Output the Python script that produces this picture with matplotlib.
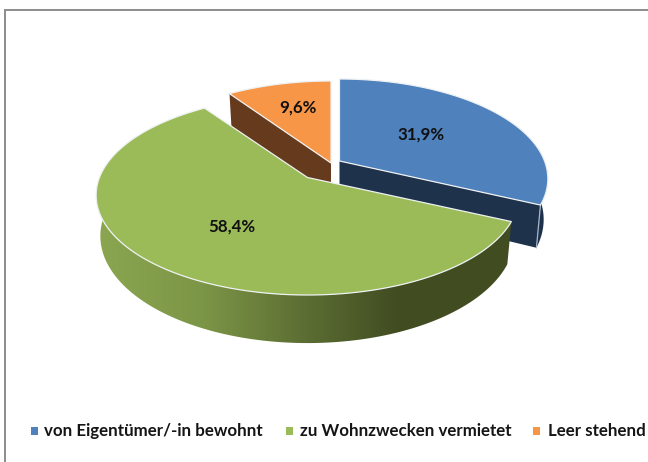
import numpy as np
import matplotlib
matplotlib.use("Agg")
import matplotlib.pyplot as plt
from matplotlib.patches import Polygon, Rectangle
from matplotlib.colors import LinearSegmentedColormap

categories = ["von Eigentümer/-in bewohnt", "zu Wohnzwecken vermietet", "Leer stehend"]
shares = [31.9, 58.4, 9.6]
share_labels = ["31,9%", "58,4%", "9,6%"]
top_colors = ["#4F81BD", "#9BBB59", "#F79646"]
side_colors = ["#1F324C", None, "#663A1D"]
apex_points = [(339.5, 161.0), (307.5, 177.5), (331.0, 163.0)]
radii = [205.0, 208.0, 205.0]
label_points = [(421, 135), (232, 226.5), (298, 107.5)]
legend_marks = [31, 286, 533]
legend_text = [44.5, 300, 547.5]

TILT, PERSP, DEPTH = 96.6, 0.178, 39.5

fig = plt.figure(figsize=(6.48, 4.62), dpi=100)
ax = fig.add_axes([0, 0, 1, 1])
ax.set_xlim(0, 648)
ax.set_ylim(462, 0)
ax.axis("off")

def rim(apex, theta, radius, lower=False):
    f = -np.cos(theta)
    w = 1 - PERSP * f
    x = radius * np.sin(theta) / w
    y = TILT * f / w
    if lower:
        x = x * 0.98
        y = y + DEPTH / w
    return apex[0] + x, apex[1] + y

def rim_poly(apex, a, b, radius, lower=False):
    t = np.linspace(a, b, 160)
    x, y = rim(apex, t, radius, lower)
    return np.column_stack([x, y])

fractions = np.array(shares) / sum(shares)
edges = np.concatenate([[0], np.cumsum(fractions)]) * 2 * np.pi

def apex_low(apex):
    return apex[0], apex[1] + DEPTH

# frame
ax.add_patch(Rectangle((5, 9.5), 660, 470, fc="white", ec="#8C8C8C", lw=1.4, zorder=0))

# orange radial wall (back)
ap, r = apex_points[2], radii[2]
a0 = edges[2]
p = [ap, rim(ap, a0, r), rim(ap, a0, r, True), apex_low(ap)]
ax.add_patch(Polygon(p, fc=side_colors[2], ec="none", zorder=1))

# blue walls
ap, r = apex_points[0], radii[0]
a1 = edges[1]
start = np.deg2rad(78)
outer = np.vstack([rim_poly(ap, start, a1, r), rim_poly(ap, a1, start, r, True)])
ax.add_patch(Polygon(outer, fc=side_colors[0], ec="none", zorder=2))
p = [ap, rim(ap, a1, r), rim(ap, a1, r, True), apex_low(ap)]
ax.add_patch(Polygon(p, fc=side_colors[0], ec="none", zorder=2.1))
ax.plot(*zip(rim(ap, a1, r), rim(ap, a1, r, True)), color="#A9B6C6", lw=0.9, zorder=2.2)

# green outer wall with horizontal gradient, light on the left and dark on the right
ap, r = apex_points[1], radii[1]
cmap = LinearSegmentedColormap.from_list(
    "wall", [(0, "#8BA650"), (0.25, "#7C9647"), (0.5, "#5C6E33"), (0.72, "#424D22"), (1, "#414C21")])
up = rim_poly(ap, edges[1], np.deg2rad(275), r)
lo = rim_poly(ap, edges[1], np.deg2rad(275), r, True)
wall = Polygon(np.vstack([up, lo[::-1]]), fc="none", ec="none", zorder=3)
ax.add_patch(wall)
img = ax.imshow(np.linspace(0, 1, 256)[None, :], cmap=cmap, vmin=0, vmax=1, aspect="auto",
                extent=(97, 512, 345, 170), zorder=3)
img.set_clip_path(wall)
ax.set_xlim(0, 648)
ax.set_ylim(462, 0)

# tops
for i, (ap, r, c) in enumerate(zip(apex_points, radii, top_colors)):
    poly = np.vstack([[ap], rim_poly(ap, edges[i], edges[i + 1], r)])
    ax.add_patch(Polygon(poly, fc=c, ec="#EEF1F2", lw=0.9, zorder=5))

# share labels
font = "Lato"
for (x, y), s in zip(label_points, share_labels):
    ax.text(x, y, s, ha="center", va="center", fontsize=12.2, fontweight="bold",
            family=font, color="#101010", zorder=6)

# legend
for lx, tx, c, name in zip(legend_marks, legend_text, top_colors, categories):
    ax.add_patch(Rectangle((lx, 427), 7, 7.5, fc=c, ec="none", zorder=6))
    ax.text(tx, 431, name, ha="left", va="center", fontsize=12.2, fontweight="bold",
            family=font, color="#151515", zorder=6)

fig.savefig("out.png", dpi=100)
